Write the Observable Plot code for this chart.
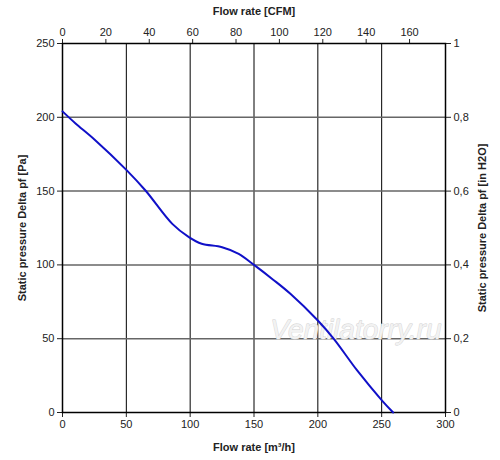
<!DOCTYPE html>
<html>
<head>
<meta charset="utf-8">
<script src="https://cdn.jsdelivr.net/npm/d3@7"></script>
<script src="https://cdn.jsdelivr.net/npm/@observablehq/plot@0.6"></script>
<style>
  body { margin: 0; background: #fff; }
  #chart svg { display: block; }
  g[aria-label$="axis label"] text { font-weight: bold; font-size: 11px; }
</style>
</head>
<body>
<div id="chart"></div>
<script>
// Flow rate (m³/h) and static pressure (Pa)
const flow     = [0, 10, 25, 50, 65, 86, 99, 109, 125, 138, 150, 165, 178.5, 200, 212.5, 230.8, 250.3, 259];
const pressure = [204, 196, 185, 164.4, 150.4, 127.8, 118.8, 114.3, 112, 107.5, 100, 90, 80.4, 62.3, 49.9, 28.5, 8.1, 0];

const flowTicks = [0, 50, 100, 150, 200, 250, 300];
const paTicks = [0, 50, 100, 150, 200, 250];
const cfmTicks = [0, 20, 40, 60, 80, 100, 120, 140, 160];
const inH2OTicks = [0, 0.2, 0.4, 0.6, 0.8, 1];
const cfmToM3h = 1.699;
const inH2OToPa = 250;
const watermark = ["Ventilatorry.ru"];

const data = flow.map((f, i) => ({flow: f, pressure: pressure[i]}));

const chart = Plot.plot({
  width: 500,
  height: 460,
  marginTop: 43,
  marginBottom: 48,
  marginLeft: 62,
  marginRight: 55,
  style: {fontFamily: "'Liberation Sans', Arial, sans-serif", fontSize: "11px", color: "#222", background: "#fff"},
  x: {domain: [0, 300]},
  y: {domain: [0, 250]},
  marks: [
    Plot.gridX(flowTicks.slice(1, -1), {stroke: "#000", strokeOpacity: 1, strokeWidth: 1}),
    Plot.gridY(paTicks.slice(1, -1), {stroke: "#666", strokeOpacity: 1, strokeWidth: 1.5}),
    Plot.text(watermark, {frameAnchor: "bottom-right", dx: -4, dy: -74, fontSize: 28, fontStyle: "italic", fill: "#f2f2f2", stroke: "#d0d0d0", strokeWidth: 0.8, text: d => d}),
    Plot.axisX(flowTicks, {anchor: "bottom", tickSize: 5, tickPadding: 3, label: "Flow rate [m³/h]", labelAnchor: "center", labelArrow: "none", labelOffset: 38}),
    Plot.axisX(cfmTicks.map(c => c * cfmToM3h), {anchor: "top", tickSize: 5, tickPadding: 3, tickFormat: d => String(Math.round(d / cfmToM3h)), label: "Flow rate [CFM]", labelAnchor: "center", labelArrow: "none", labelOffset: 36}),
    Plot.axisY(paTicks, {anchor: "left", tickSize: 5, tickPadding: 3, label: "Static pressure Delta pf [Pa]", labelAnchor: "center", labelArrow: "none", labelOffset: 44}),
    Plot.axisY(inH2OTicks.map(v => v * inH2OToPa), {anchor: "right", tickSize: 5, tickPadding: 3, tickFormat: d => String(+(d / inH2OToPa).toFixed(1)).replace(".", ","), label: "Static pressure Delta pf [in H2O]", labelAnchor: "center", labelArrow: "none", labelOffset: 40}),
    Plot.frame({stroke: "#000", strokeWidth: 1.5}),
    Plot.line(data, {x: "flow", y: "pressure", curve: "catmull-rom", stroke: "#1010c8", strokeWidth: 2})
  ]
});
document.getElementById("chart").appendChild(chart);
</script>
</body>
</html>
